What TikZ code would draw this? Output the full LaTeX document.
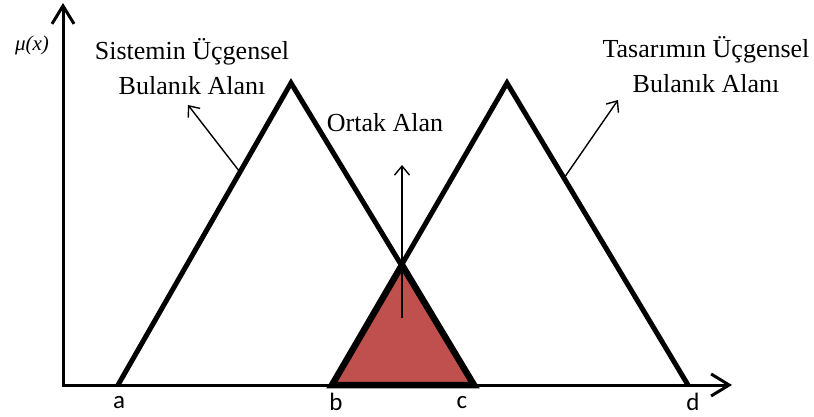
\documentclass[tikz,border=0pt]{standalone}
\usepackage{fontspec}
\setmainfont{Liberation Serif}
\newfontfamily\tickfont{Carlito}
\usetikzlibrary{arrows.meta, positioning, calc}
\definecolor{ortakred}{HTML}{C0504D}
\tikzset{
    % Axes
    axis/.style={ line width=3pt, -{Straight Barb[length=18pt,width=22pt]} },
    % Triangular fuzzy sets
    trimf/.style={ line width=5pt, line join=miter },
    overlap/.style={ fill=ortakred, draw=black, line width=6.5pt, line join=miter },
    % Annotations
    pointer/.style={ line width=1.4pt, -{Straight Barb[length=9pt,width=15pt]} },
    caption/.style={ font=\fontsize{26}{35}\selectfont, align=center, inner sep=2pt },
    ticklabel/.style={ font=\tickfont\fontsize{25}{28}\selectfont, inner sep=0pt },
}

\begin{document}
\begin{tikzpicture}[x=1pt, y=-1pt]
    \useasboundingbox (0,0) rectangle (814,417);

    % Points on the horizontal axis
    \coordinate (origin) at (63,385);
    \coordinate (a) at (118,385);
    \coordinate (b) at (332,385);
    \coordinate (c) at (474,385);
    \coordinate (d) at (688,385);
    \coordinate (apex-sys) at (291,83);
    \coordinate (apex-des) at (507,83);
    \coordinate (cross) at (402,265);
    \coordinate (x-end) at (732,385);
    \coordinate (y-end) at (63,3);

    % Common area
    \draw[overlap] (b) -- (cross) -- (c) -- cycle;

    % Fuzzy sets
    \draw[trimf] (a) -- (apex-sys) -- (c);
    \draw[trimf] (b) -- (apex-des) -- (d);

    % Axes
    \draw[axis] ([yshift=-1.5pt] origin) to (y-end);
    \draw[axis] ([xshift=-1.5pt] origin) to (x-end);

    % Labels
    \node[font=\itshape\fontsize{21}{24}\selectfont] (mu) at (32,45) {μ(x)};
    \node[caption] (sys-label) at (192,67) {Sistemin Üçgensel\\Bulanık Alanı};
    \node[caption] (des-label) at (706,65) {Tasarımın Üçgensel\\Bulanık Alanı};
    \node[caption] (ortak-label) at (385,123) {Ortak Alan};

    \node[ticklabel] (lbl-a) at (119,403) {a};
    \node[ticklabel] (lbl-b) at (336,402) {b};
    \node[ticklabel] (lbl-c) at (462,403) {c};
    \node[ticklabel] (lbl-d) at (693,402) {d};

    % Pointers
    \coordinate (sys-foot) at ($(a)!0.705!(apex-sys)$);
    \coordinate (des-foot) at ($(apex-des)!0.315!(d)$);
    \coordinate (ortak-foot) at (402,318);
    \coordinate (sys-tip) at (188,105);
    \coordinate (des-tip) at (618,100);
    \coordinate (ortak-tip) at (402,165);
    \draw[pointer] (sys-foot) to (sys-tip);
    \draw[pointer] (des-foot) to (des-tip);
    \draw[pointer] (ortak-foot) to (ortak-tip);
\end{tikzpicture}
\end{document}
